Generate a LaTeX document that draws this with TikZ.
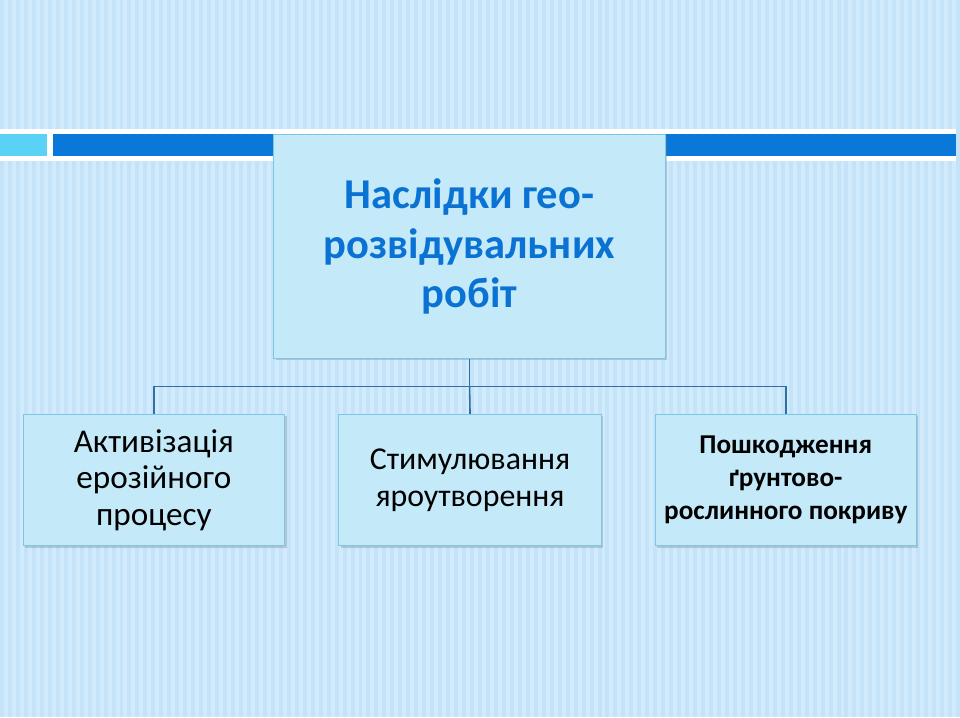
\documentclass[tikz,border=0pt]{standalone}
\usepackage{fontspec}
\setmainfont{Carlito}
\usetikzlibrary{shadows}
\definecolor{bgc}{HTML}{D2EBFC}
\definecolor{strc}{HTML}{C4E2F8}
\definecolor{boxc}{HTML}{C4EAFA}
\definecolor{boxd}{HTML}{7CC6E6}
\definecolor{barb}{HTML}{0A78D8}
\definecolor{barc}{HTML}{5AD2F5}
\definecolor{linec}{HTML}{2E6FA8}
\definecolor{titc}{HTML}{0A72D2}
\tikzset{
  card/.style={draw=boxd, fill=boxc, line width=0.6pt, drop shadow={shadow xshift=1.5pt,shadow yshift=-1.5pt,opacity=0.35}, align=center, inner sep=0pt},
  conn/.style={draw=linec, line width=1.2pt}
}
\begin{document}
\begin{tikzpicture}[x=0.75pt,y=-0.75pt]
\fill[bgc] (0,0) rectangle (960,720);
\foreach \i in {0,...,120}{\fill[strc] (\i*8,0) rectangle (\i*8+4,720);}
\useasboundingbox (0,0) rectangle (960,720);
\fill[white] (0,130) rectangle (960,162);
\fill[barc] (0,135) rectangle (47,157);
\fill[barb] (53,135) rectangle (960,157);
\node[card, minimum width=393*0.75pt, minimum height=225*0.75pt, font=\bfseries\fontsize{32}{37.5}\selectfont, text=titc] (t) at (471.5,247.5) {Наслідки гео-\\розвідувальних\\робіт};
\node[card, minimum width=263*0.75pt, minimum height=132*0.75pt, font=\fontsize{25}{27.5}\selectfont] (a) at (154.5,482) {Активізація\\ерозійного\\процесу};
\node[card, minimum width=264*0.75pt, minimum height=132*0.75pt, font=\fontsize{24}{28}\selectfont] (b) at (472,482) {Стимулювання\\яроутворення};
\node[card, minimum width=262*0.75pt, minimum height=132*0.75pt, font=\bfseries\fontsize{20.5}{25}\selectfont] (c) at (789,482) {Пошкодження\\ґрунтово-\\рослинного покриву};
\coordinate (m) at (471.5,388);
\draw[conn] (t.south) -- (m);
\draw[conn] (a.north) |- (m) -| (c.north);
\draw[conn] (m) -- (b.north);
\end{tikzpicture}
\end{document}
